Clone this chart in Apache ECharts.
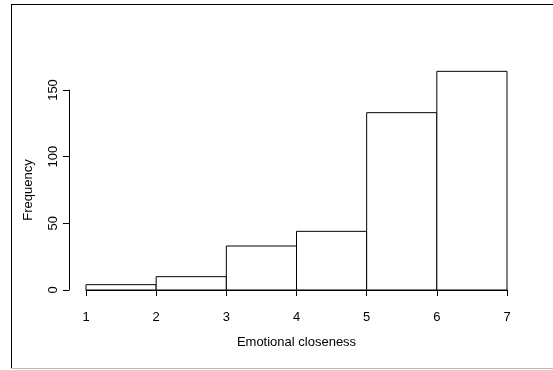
<!DOCTYPE html>
<html>
<head>
<meta charset="utf-8">
<script src="https://cdn.jsdelivr.net/npm/echarts@6/dist/echarts.min.js"></script>
<style>
html, body { margin: 0; padding: 0; background: #fff; }
#chart { width: 553px; height: 370px; }
</style>
</head>
<body>
<div id="chart"></div>
<script>
// histogram bins: [start, end]
const binStarts = [1, 2, 3, 4, 5, 6];
const binEnds = [2, 3, 4, 5, 6, 7];
const counts = [4, 10, 33, 44, 133, 164];
const yTicks = [0, 50, 100, 150];

const chart = echarts.init(document.getElementById("chart"));
const font = "Liberation Sans, Arial, sans-serif";

const option = {
	animation: false,
	backgroundColor: "#fff",
	grid: {
		left: 86,
		right: 46,
		top: 90,
		bottom: 80
	},
	xAxis: {
		type: "value",
		min: 1,
		max: 7,
		interval: 1,
		offset: 9,
		name: "Emotional closeness",
		nameLocation: "middle",
		nameGap: 37,
		nameTextStyle: { color: "#000", fontSize: 13, fontFamily: font },
		axisLine: { show: true, lineStyle: { color: "#000", width: 1 } },
		axisTick: { show: true, length: 6, lineStyle: { color: "#000" } },
		axisLabel: { color: "#000", fontSize: 13, fontFamily: font, margin: 12 },
		splitLine: { show: false }
	},
	yAxis: {
		type: "value",
		min: 0,
		max: 150,
		interval: 50,
		offset: 17,
		name: "Frequency",
		nameLocation: "middle",
		nameGap: 34,
		nameTextStyle: { color: "#000", fontSize: 13, fontFamily: font },
		axisLine: { show: true, lineStyle: { color: "#000", width: 1 } },
		axisTick: { show: true, length: 6, lineStyle: { color: "#000" } },
		axisLabel: {
			color: "#000",
			fontSize: 13,
			fontFamily: font,
			rotate: 90,
			margin: 9,
			formatter: v => (yTicks.indexOf(v) >= 0 ? String(v) : "")
		},
		splitLine: { show: false }
	},
	series: [
		{
			type: "custom",
			clip: false,
			data: counts.map((c, i) => [binStarts[i], binEnds[i], c]),
			renderItem: (params, api) => {
				const p0 = api.coord([api.value(0), 0]);
				const p1 = api.coord([api.value(1), api.value(2)]);
				return {
					type: "rect",
					shape: {
						x: p0[0],
						y: p1[1],
						width: p1[0] - p0[0],
						height: p0[1] - p1[1]
					},
					style: { fill: "#fff", stroke: "#000", lineWidth: 1 }
				};
			}
		}
	],
	graphic: [
		{ type: "line", shape: { x1: 11, y1: 4.5, x2: 553, y2: 4.5 }, style: { stroke: "#000", lineWidth: 1 } },
		{ type: "line", shape: { x1: 11.5, y1: 4, x2: 11.5, y2: 368 }, style: { stroke: "#000", lineWidth: 1 } },
		{ type: "line", shape: { x1: 11, y1: 368.5, x2: 553, y2: 368.5 }, style: { stroke: "#bbb", lineWidth: 1 } }
	]
};
chart.setOption(option);
</script>
</body>
</html>
